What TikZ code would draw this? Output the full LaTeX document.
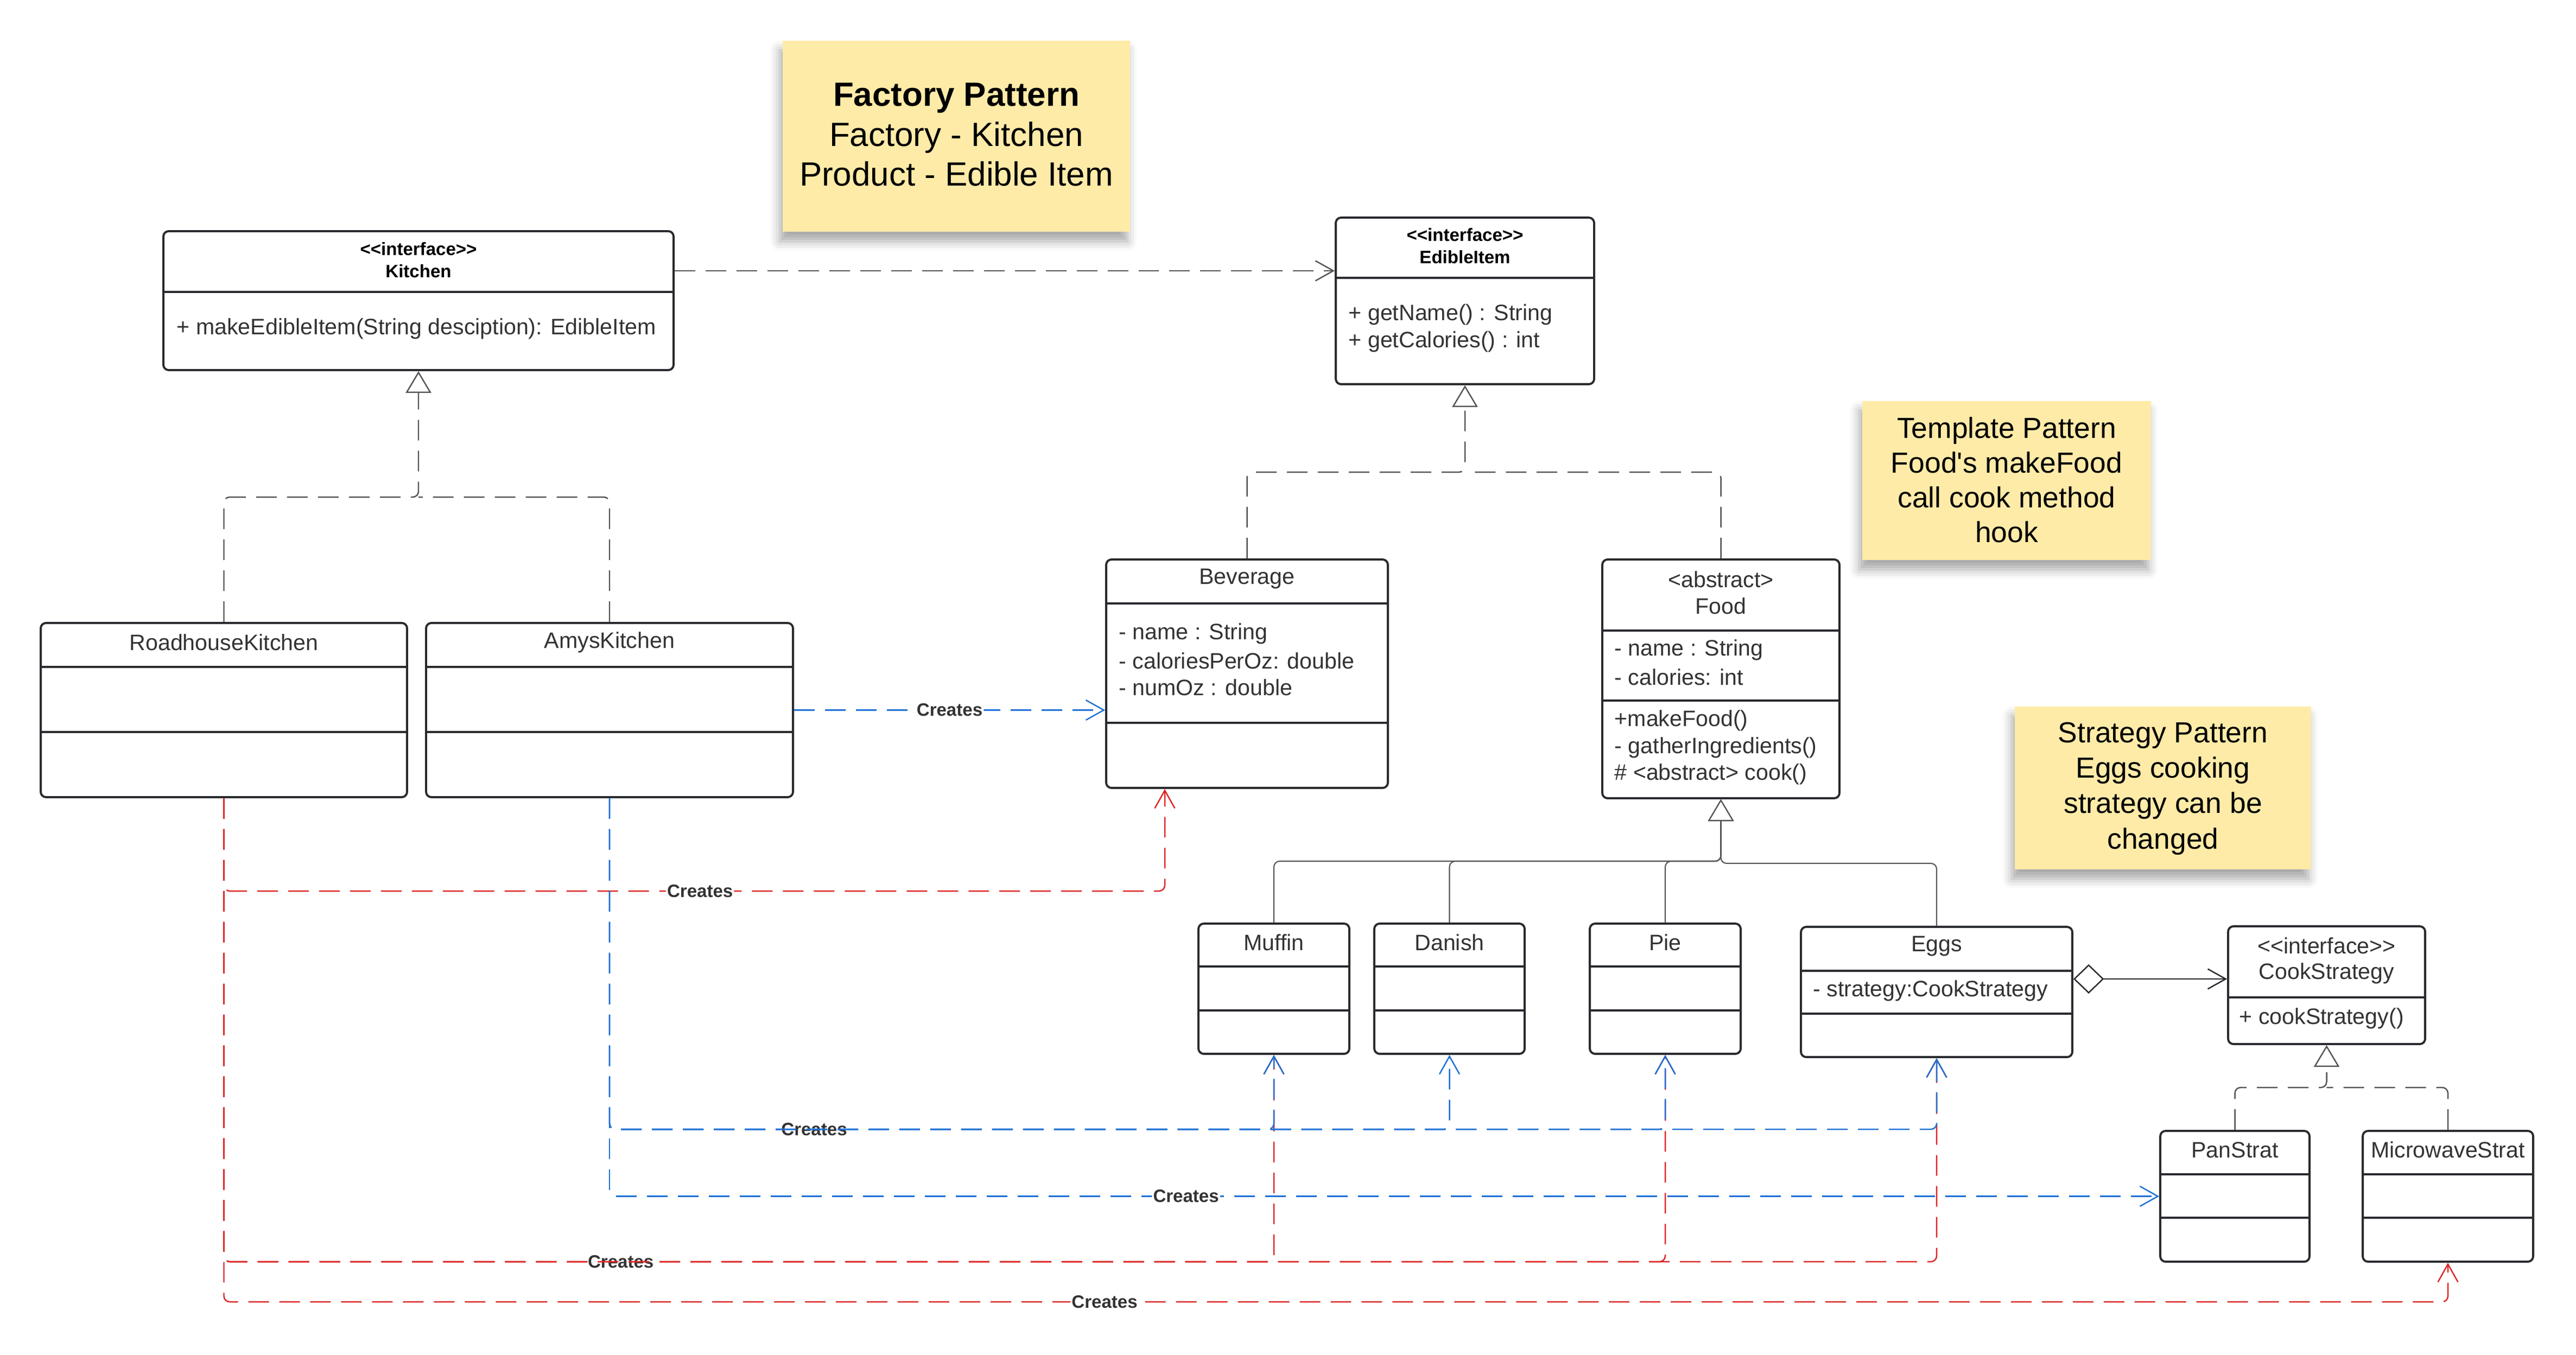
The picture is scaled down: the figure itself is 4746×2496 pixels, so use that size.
\documentclass[tikz,border=0pt]{standalone}
\usepackage{fontspec}
\setmainfont{Liberation Sans}[Ligatures=TeXOff]
\usetikzlibrary{arrows.meta,fit,shadows.blur}
\definecolor{boxline}{RGB}{40,42,46}
\definecolor{txtgray}{RGB}{51,51,51}
\definecolor{linkgray}{RGB}{85,85,85}
\definecolor{blueline}{RGB}{30,113,214}
\definecolor{redline}{RGB}{221,38,38}
\definecolor{sticky}{RGB}{254,235,168}
\tikzset{
  umlbox/.style={draw=boxline, line width=1.1pt, rounded corners=2.8pt, inner sep=0pt, fill=white},
  umlline/.style={draw=boxline, line width=1.1pt},
  cname/.style={text=txtgray, font=\fontsize{11.7}{14}\selectfont, inner sep=0pt},
  member/.style={cname, anchor=west},
  ihead/.style={font=\fontsize{9.4}{11}\selectfont\bfseries, inner sep=0pt},
  note/.style={fill=sticky, inner sep=0pt, blur shadow={shadow xshift=-1.5pt, shadow yshift=-5pt, shadow blur radius=5pt, shadow opacity=35}},
  notetext/.style={inner sep=0pt, align=center},
  lbl/.style={font=\fontsize{9.4}{11}\selectfont\bfseries, text=txtgray, fill=white, inner sep=0.6pt},
  dashline/.style={dash pattern=on 10.8pt off 5.4pt, line width=0.7pt, rounded corners=3pt},
  opentip/.style={-{Straight Barb[length=9.4pt,width=10.5pt]}},
  dep/.style={dashline, draw=linkgray, opentip},
  bluedep/.style={dashline, draw=blueline, opentip},
  reddep/.style={dashline, draw=redline, opentip},
  real/.style={dashline, draw=linkgray, -{Triangle[length=11.4pt,width=13.4pt,fill=white]}},
  realbranch/.style={dashline, draw=linkgray},
  gen/.style={draw=linkgray, line width=0.6pt, rounded corners=3pt, -{Triangle[length=11.4pt,width=13.4pt,fill=white]}},
  agg/.style={draw=boxline, line width=0.7pt, {Diamond[length=16pt,width=15.4pt,fill=white]}-{Straight Barb[length=9.4pt,width=10.5pt]}}
}
\newcommand{\umlbox}[5]{\node[umlbox, fit={(#2,#3) (#4,#5)}] (#1) {};}
\newcommand{\divider}[2]{\draw[umlline] (#1.west |- 0,#2) -- (#1.east |- 0,#2);}
\newcommand{\cname}[4]{\node[cname] (#1) at (#2.center |- 0,#3) {#4};}
\newcommand{\iname}[4]{\node[ihead] (#1) at (#2.center |- 0,#3) {#4};}
\newcommand{\member}[4]{\node[member] (#1) at (#2,#3) {#4};}
\newcommand{\stereo}{<\kern0pt<interface>\kern0pt>}

\begin{document}
\begin{tikzpicture}[x=0.01cm,y=-0.01cm]
    \useasboundingbox (0,0) rectangle (4746,2496);
    \node[note, fit={(1442,75) (2082,427)}] (factory) {};
    \node[notetext, font=\fontsize{17.6}{20.8}\selectfont] (factorytxt) at ([yshift=0.03cm]factory.center) {\textbf{Factory Pattern}\\Factory - Kitchen\\Product - Edible Item};
    \node[note, fit={(3431,739) (3963,1032)}] (template) {};
    \node[notetext, font=\fontsize{15.2}{18.2}\selectfont] (templatetxt) at ([yshift=0.01cm]template.center) {Template Pattern\\Food's makeFood\\call cook method\\hook};
    \node[note, fit={(3712,1302) (4258,1602)}] (strategy) {};
    \node[notetext, font=\fontsize{15.2}{18.6}\selectfont] (strategytxt) at ([yshift=-0.01cm]strategy.center) {Strategy Pattern\\Eggs cooking\\strategy can be\\changed};

    \umlbox{kit}{301}{426}{1241}{682} \divider{kit}{538}
    \iname{kith1}{kit}{459}{\stereo} \iname{kith2}{kit}{500}{Kitchen}
    \member{kitm1}{325}{606}{+ makeEdibleItem(String desciption): EdibleItem}
    \umlbox{edi}{2461}{401}{2937}{708} \divider{edi}{512}
    \iname{edih1}{edi}{433}{\stereo} \iname{edih2}{edi}{474}{EdibleItem}
    \member{edim1}{2484}{580}{+ getName() : String} \member{edim2}{2484}{630}{+ getCalories() : int}

    \umlbox{rk}{75}{1148}{750}{1469} \divider{rk}{1229} \divider{rk}{1349} \cname{rkn}{rk}{1184}{RoadhouseKitchen}
    \umlbox{ak}{785}{1148}{1461}{1469} \divider{ak}{1229} \divider{ak}{1349} \cname{akn}{ak}{1184}{AmysKitchen}

    \umlbox{bev}{2038}{1031}{2557}{1452} \divider{bev}{1112} \divider{bev}{1332} \cname{bevn}{bev}{1067}{Beverage}
    \member{bevm1}{2061}{1168}{- name : String} \member{bevm2}{2061}{1218}{- caloriesPerOz: double} \member{bevm3}{2061}{1267}{- numOz : double}
    \umlbox{food}{2952}{1031}{3389}{1471} \divider{food}{1162} \divider{food}{1291}
    \cname{foodn1}{food}{1068}{<abstract>} \cname{foodn2}{food}{1117}{Food}
    \member{foodm1}{2974}{1198}{- name : String} \member{foodm2}{2974}{1248}{- calories: int}
    \member{foodm3}{2974}{1328}{+makeFood()} \member{foodm4}{2974}{1378}{- gatherIngredients()} \member{foodm5}{2974}{1427}{\# <abstract> cook()}

    \umlbox{muf}{2208}{1702}{2486}{1942} \divider{muf}{1781} \divider{muf}{1862} \cname{mufn}{muf}{1737}{Muffin}
    \umlbox{dan}{2532}{1702}{2809}{1942} \divider{dan}{1781} \divider{dan}{1862} \cname{dann}{dan}{1737}{Danish}
    \umlbox{pie}{2929}{1702}{3207}{1942} \divider{pie}{1781} \divider{pie}{1862} \cname{pien}{pie}{1737}{Pie}
    \umlbox{egg}{3318}{1708}{3818}{1948} \divider{egg}{1789} \divider{egg}{1868} \cname{eggn}{egg}{1744}{Eggs}
    \member{eggm1}{3340}{1826}{- strategy:CookStrategy}
    \umlbox{cs}{4105}{1707}{4468}{1924} \divider{cs}{1838}
    \cname{csn1}{cs}{1743}{\stereo} \cname{csn2}{cs}{1794}{CookStrategy} \member{csm1}{4125}{1877}{+ cookStrategy()}
    \umlbox{pan}{3980}{2084}{4255}{2325} \divider{pan}{2164} \divider{pan}{2244} \cname{pann}{pan}{2119}{PanStrat}
    \umlbox{mw}{4353}{2084}{4667}{2325} \divider{mw}{2164} \divider{mw}{2244} \cname{mwn}{mw}{2119}{MicrowaveStrat}

    \draw[dep] (kit.east |- 0,499) -- (edi.west |- 0,499);
    \draw[realbranch] (ak.north) |- (kit.south |- 0,916); \draw[real] (rk.north) |- (kit.south |- 0,916) -- (kit.south);
    \draw[realbranch] (food.north) |- (edi.south |- 0,870); \draw[real] (bev.north) |- (edi.south |- 0,870) -- (edi.south);
    \draw[realbranch] (mw.north) |- (cs.south |- 0,2004); \draw[real] (pan.north) |- (cs.south |- 0,2004) -- (cs.south);
    \draw[gen] (muf.north) |- (food.south |- 0,1587) -- (food.south);
    \draw[gen] (dan.north) |- (food.south |- 0,1587) -- (food.south);
    \draw[gen] (pie.north) |- (food.south |- 0,1587) -- (food.south);
    \draw[gen] (egg.north) |- (food.south |- 0,1591) -- (food.south);
    \draw[agg] (egg.east |- 0,1804) -- (cs.west |- 0,1804);

    \draw[reddep] (rk.south) |- node[lbl, pos=.753] (c2) {Creates} (2146,1642) -- (bev.south -| 2146,0);
    \draw[reddep] (rk.south) |- node[lbl, pos=.689] (c5) {Creates} (muf.south |- 0,2325) -- (muf.south);
    \draw[reddep] (rk.south) |- (pie.south |- 0,2325) -- (pie.south);
    \draw[reddep] (rk.south) |- (egg.south |- 0,2325) -- (egg.south);
    \draw[reddep] (rk.south) |- node[lbl, pos=.698] (c6) {Creates} (mw.south |- 0,2399) -- (mw.south);
    \draw[bluedep] (ak.east) -- node[lbl] (c1) {Creates} (ak.east -| bev.west);
    \draw[bluedep] (ak.south) |- node[lbl, pos=.654] (c3) {Creates} (muf.south |- 0,2081) -- (muf.south);
    \draw[bluedep] (ak.south) |- (dan.south |- 0,2081) -- (dan.south);
    \draw[bluedep] (ak.south) |- (pie.south |- 0,2081) -- (pie.south);
    \draw[bluedep] (ak.south) |- (egg.south |- 0,2081) -- (egg.south);
    \draw[bluedep] (ak.south) |- node[lbl, pos=.686] (c4) {Creates} (pan.west);
\end{tikzpicture}
\end{document}
